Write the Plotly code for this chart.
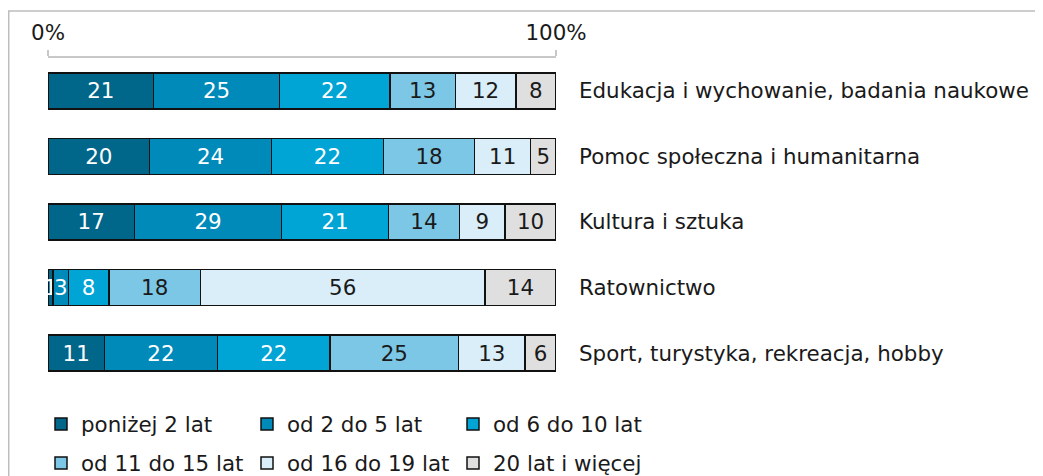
import plotly.graph_objects as go

categories = ["Edukacja i wychowanie, badania naukowe",
              "Pomoc społeczna i humanitarna",
              "Kultura i sztuka",
              "Ratownictwo",
              "Sport, turystyka, rekreacja, hobby"]
series_names = ["poniżej 2 lat", "od 2 do 5 lat", "od 6 do 10 lat",
                "od 11 do 15 lat", "od 16 do 19 lat", "20 lat i więcej"]
s_lt2 = [21, 20, 17, 1, 11]
s_2_5 = [25, 24, 29, 3, 22]
s_6_10 = [22, 22, 21, 8, 22]
s_11_15 = [13, 18, 14, 18, 25]
s_16_19 = [12, 11, 9, 56, 13]
s_20p = [8, 5, 10, 14, 6]
series_values = [s_lt2, s_2_5, s_6_10, s_11_15, s_16_19, s_20p]
x_tick_vals = [0, 100]
x_tick_text = ["0%", "100%"]

colors = ["#00668A", "#008AB9", "#00A4D5", "#7DC7E6", "#D9EEF8", "#DFDFDF"]
text_colors = ["white", "white", "white", "#1a1a1a", "#1a1a1a", "#1a1a1a"]
FONT = "DejaVu Sans"
FS = 21.4

W, H = 1035, 468  # page body adds an 8px margin
legend_names = ["legend", "legend2", "legend3", "legend4", "legend5", "legend6"]
legend_x_px = [33, 239, 445, 33, 239, 445]
legend_y_px = [416, 416, 416, 455, 455, 455]

fig = go.Figure()
for i, (name, vals) in enumerate(zip(series_names, series_values)):
    fig.add_trace(go.Bar(
        y=categories, x=vals, name=name, orientation="h",
        marker=dict(color=colors[i], line=dict(color="#111111", width=1.5)),
        text=[str(v) for v in vals], texttemplate="%{text}",
        textposition="inside", insidetextanchor="middle", textangle=0,
        constraintext="none",
        textfont=dict(color=text_colors[i], family=FONT, size=FS),
        legend=legend_names[i],
        hoverinfo="skip",
    ))

legends = {}
for i, ln in enumerate(legend_names):
    legends[ln] = dict(orientation="h", xref="container", yref="container",
                       x=legend_x_px[i] / W, y=1 - legend_y_px[i] / H,
                       xanchor="left", yanchor="middle",
                       bgcolor="rgba(0,0,0,0)", font=dict(family=FONT, size=FS))

fig.update_layout(
    width=W, height=H,
    margin=dict(l=40, r=487, t=50, b=98, autoexpand=False),
    barmode="stack", barnorm="percent", bargap=0.45,
    paper_bgcolor="white", plot_bgcolor="white",
    font=dict(family=FONT, size=FS, color="#1a1a1a"),
    xaxis=dict(side="top", range=[0, 100], tickvals=x_tick_vals, ticktext=x_tick_text,
               showgrid=True, gridcolor="#C8C8C8", gridwidth=1.5,
               showline=True, linecolor="#C8C8C8", linewidth=1.5,
               ticks="outside", ticklen=6, tickcolor="#C8C8C8", tickwidth=1.5,
               ticklabelstandoff=2, zeroline=False, fixedrange=True),
    yaxis=dict(side="right", range=[4.38, -0.5], showgrid=False, showline=False,
               ticks="", ticklabelstandoff=22, zeroline=False, fixedrange=True),
    showlegend=True,
    shapes=[dict(type="rect", xref="paper", yref="paper", x0=-0.0773, x1=2.0,
                 y0=-1.0, y1=1.147, line=dict(color="#BDBDBD", width=1.5),
                 fillcolor="rgba(0,0,0,0)", layer="below")],
    **legends,
)

fig.write_html("out.html")
